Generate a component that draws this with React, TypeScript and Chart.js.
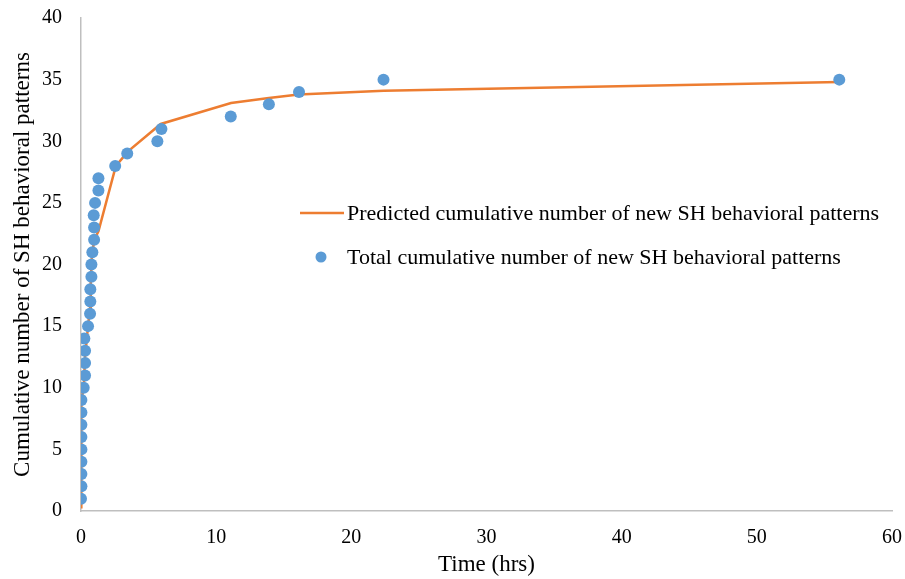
import React, { useEffect, useRef } from "react";
import { Chart, registerables } from "chart.js";

Chart.register(...registerables);

// Observed: total cumulative number of new SH behavioral patterns
const obsTime = [
  0.0, 0.03, 0.03, 0.03, 0.03, 0.03, 0.03, 0.03, 0.03, 0.2,
  0.3, 0.3, 0.3, 0.25, 0.52, 0.67, 0.69, 0.69, 0.77, 0.77,
  0.84, 0.97, 0.97, 0.94, 1.04, 1.29, 1.29, 2.53, 3.42, 5.65,
  5.95, 11.08, 13.9, 16.13, 22.38, 56.1,
];
const obsCount = [
  1, 2, 3, 4, 5, 6, 7, 8, 9, 10,
  11, 12, 13, 14, 15, 16, 17, 18, 19, 20,
  21, 22, 23, 24, 25, 26, 27, 28, 29, 30,
  31, 32, 33, 34, 35, 35,
];

// Predicted cumulative number of new SH behavioral patterns
const predTime = [0.0, 0.02, 0.03, 0.2, 0.3, 0.52, 0.67, 0.72, 0.8, 0.97, 1.29, 2.58, 3.5, 5.9, 11.1, 13.9, 16.1, 22.4, 56.1];
const predCount = [0.3, 5, 9, 10, 12.5, 15, 16.5, 18.5, 20.5, 22, 22.7, 28, 29.2, 31.4, 33.1, 33.5, 33.8, 34.1, 34.8];

const xTicks = [0, 10, 20, 30, 40, 50, 60];
const yTicks = [0, 5, 10, 15, 20, 25, 30, 35, 40];

const legendLabels = [
  "Predicted cumulative number of new SH behavioral patterns",
  "Total cumulative number of new SH behavioral patterns",
];

const ORANGE = "#ED7D31";
const BLUE = "#5B9BD5";
const FONT = "'Liberation Serif', 'Times New Roman', serif";

const legendPlugin = {
  id: "customLegend",
  afterDraw(chart: any) {
    const ctx = chart.ctx;
    ctx.save();
    ctx.font = `22px ${FONT}`;
    ctx.fillStyle = "#000";
    ctx.textBaseline = "middle";
    ctx.textAlign = "left";
    ctx.strokeStyle = ORANGE;
    ctx.lineWidth = 2.5;
    ctx.beginPath();
    ctx.moveTo(300, 213);
    ctx.lineTo(344, 213);
    ctx.stroke();
    ctx.fillText(legendLabels[0], 347, 214);
    ctx.fillStyle = BLUE;
    ctx.beginPath();
    ctx.arc(321, 257, 5.5, 0, Math.PI * 2);
    ctx.fill();
    ctx.fillStyle = "#000";
    ctx.fillText(legendLabels[1], 347, 258);
    ctx.restore();
  },
};

export default function App() {
  const ref = useRef<HTMLCanvasElement | null>(null);
  useEffect(() => {
    document.body.style.margin = "0";
    const canvas = ref.current!;
    const chart = new Chart(canvas, {
      type: "scatter",
      data: {
        datasets: [
          {
            label: legendLabels[1],
            data: obsTime.map((t, i) => ({ x: t, y: obsCount[i] })),
            backgroundColor: BLUE,
            borderColor: BLUE,
            pointRadius: 6,
            pointBorderWidth: 0,
            showLine: false,
            order: 0,
          },
          {
            label: legendLabels[0],
            data: predTime.map((t, i) => ({ x: t, y: predCount[i] })),
            borderColor: ORANGE,
            backgroundColor: ORANGE,
            borderWidth: 2.5,
            pointRadius: 0,
            showLine: true,
            order: 1,
          },
        ],
      },
      options: {
        responsive: false,
        animation: false,
        layout: { padding: { top: 18, right: 13, left: 0, bottom: 0 } },
        plugins: { legend: { display: false }, tooltip: { enabled: false } },
        scales: {
          x: {
            type: "linear",
            min: 0,
            max: 60,
            afterBuildTicks: (s: any) => {
              s.ticks = xTicks.map((v) => ({ value: v }));
            },
            afterFit: (s: any) => {
              s.height = 579 - 511;
              s.paddingLeft = 0;
              s.paddingRight = 0;
              s.paddingTop = 0;
              s.paddingBottom = 0;
            },
            grid: { display: false, drawTicks: false },
            border: { display: true, color: "#BFBFBF", width: 1.5 },
            ticks: { color: "#000", font: { family: FONT, size: 20 }, padding: 15 },
            title: {
              display: true,
              text: "Time (hrs)",
              color: "#000",
              font: { family: FONT, size: 23 },
              padding: { top: 0, bottom: 0 },
            },
          },
          y: {
            type: "linear",
            min: 0,
            max: 40,
            afterBuildTicks: (s: any) => {
              s.ticks = yTicks.map((v) => ({ value: v }));
            },
            afterFit: (s: any) => {
              s.width = 81;
              s.paddingLeft = 0;
              s.paddingRight = 0;
              s.paddingTop = 0;
              s.paddingBottom = 0;
            },
            grid: { display: false, drawTicks: false },
            border: { display: true, color: "#BFBFBF", width: 1.5 },
            ticks: { color: "#000", font: { family: FONT, size: 20 }, padding: 19 },
            title: {
              display: true,
              text: "Cumulative number of SH behavioral patterns",
              color: "#000",
              font: { family: FONT, size: 23 },
              padding: { top: 9, bottom: 0 },
            },
          },
        },
      },
      plugins: [legendPlugin],
    } as any);
    return () => chart.destroy();
  }, []);
  return (
    <div style={{ width: 905, height: 579, background: "#fff" }}>
      <canvas ref={ref} width={905} height={579} />
    </div>
  );
}
